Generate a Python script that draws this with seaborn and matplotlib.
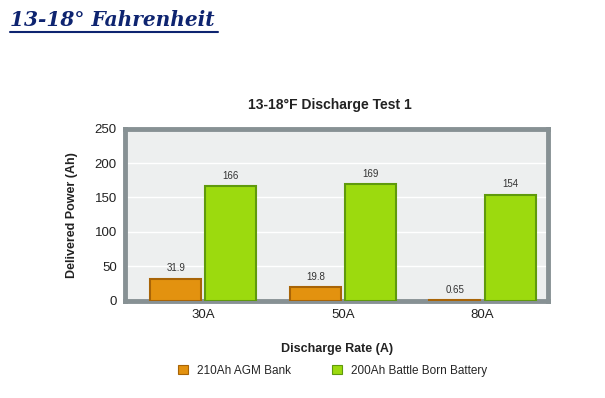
import pandas as pd
import numpy as np
import matplotlib.pyplot as plt
import seaborn as sns
from matplotlib.lines import Line2D
from matplotlib.patches import Patch

# values
rates = ['30A', '50A', '80A']
agm_ah = [31.9, 19.8, 0.65]
bb_ah = [166, 169, 154]
series_names = ['210Ah AGM Bank', '200Ah Battle Born Battery']
label_txt = {'210Ah AGM Bank': ['31.9', '19.8', '0.65'],
             '200Ah Battle Born Battery': ['166', '169', '154']}

df = pd.DataFrame({
    'rate': rates * 2,
    'ah': agm_ah + bb_ah,
    'battery': [series_names[0]] * 3 + [series_names[1]] * 3,
})

sns.set_style('white')
plt.rcParams['font.family'] = ['Liberation Sans', 'DejaVu Sans']

pal = {series_names[0]: '#E3920F', series_names[1]: '#9CDA0E'}
edge = {series_names[0]: '#A86407', series_names[1]: '#5F9A0C'}

fig = plt.figure(figsize=(6.05, 3.98), dpi=100)
ax = fig.add_axes([0.207, 0.244, 0.699, 0.433])

sns.barplot(data=df, x='rate', y='ah', hue='battery', hue_order=series_names,
            palette=pal, saturation=1, width=0.79, gap=0.075, ax=ax,
            legend=False, zorder=3)

for cont, name in zip(ax.containers, series_names):
    for p in cont:
        p.set_edgecolor(edge[name])
        p.set_linewidth(1.5)
    ax.bar_label(cont, labels=label_txt[name], padding=4, fontsize=7, color='#333333')

ax.set_facecolor('#EDEFEF')
ax.set_xlim(-0.56, 2.47)
ax.set_ylim(0, 250)
ax.set_yticks([0, 50, 100, 150, 200, 250])
ax.yaxis.grid(True, color='#FFFFFF', linewidth=1.0, zorder=0)
ax.set_axisbelow(True)
for s in ax.spines.values():
    s.set_visible(True)
    s.set_color('#879194')
    s.set_linewidth(3.5)
ax.tick_params(axis='both', length=0, labelsize=9.5, colors='#222222', pad=6)

ax.set_xlabel('Discharge Rate (A)', fontsize=9, fontweight='bold', color='#222222', labelpad=16)
ax.set_ylabel('Delivered Power (Ah)', fontsize=9, fontweight='bold', color='#222222', labelpad=12)
ax.set_title('13-18°F Discharge Test 1', fontsize=10, fontweight='bold', color='#222222',
             pad=14, x=0.485)

handles = [Patch(facecolor=pal[n], edgecolor=edge[n], linewidth=0.8) for n in series_names]
fig.legend(handles, series_names, loc='center', bbox_to_anchor=(0.55, 0.068), ncol=2,
           frameon=False, fontsize=8.5, handlelength=0.8, handleheight=0.8,
           columnspacing=3.5, handletextpad=0.8)

# page heading with underline
head = fig.text(0.017, 0.951, '13-18° Fahrenheit', fontsize=14.5, fontweight='bold',
                fontstyle='italic', family='DejaVu Serif', color='#0E2470', va='center')
fig.canvas.draw()
bb = head.get_window_extent().transformed(fig.transFigure.inverted())
fig.add_artist(Line2D([bb.x0, bb.x1 + 0.005], [bb.y0 - 0.006, bb.y0 - 0.006],
                      color='#0E2470', linewidth=1.5))

fig.savefig('out.png', dpi=100, facecolor='white')
